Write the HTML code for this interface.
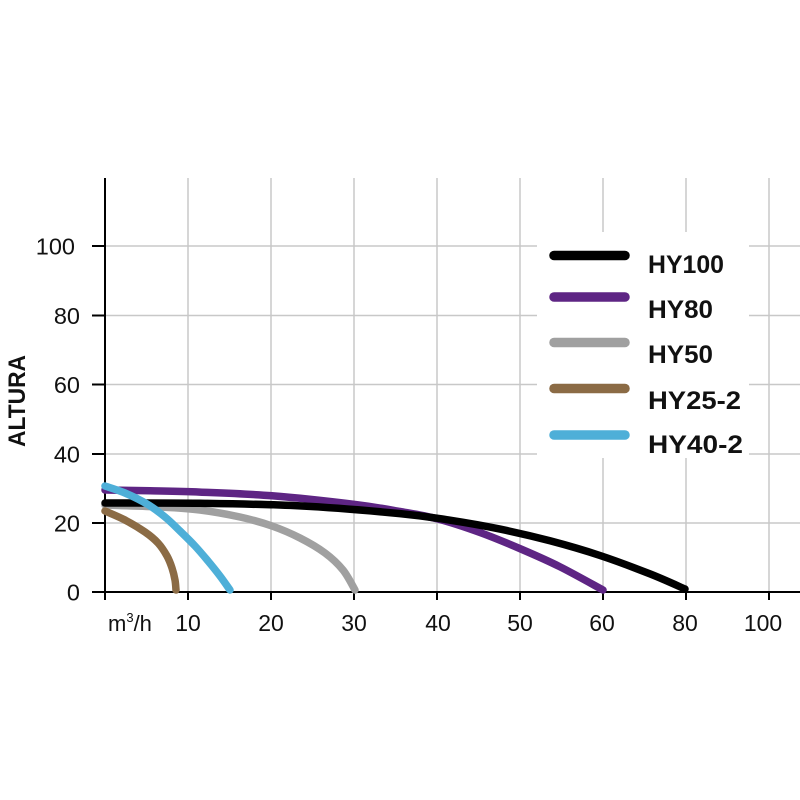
<!DOCTYPE html>
<html><head><meta charset="utf-8"><style>
html,body{margin:0;padding:0;background:#fff;}
svg{display:block;}
text{font-family:"Liberation Sans",sans-serif;fill:#111;}
</style></head><body>
<svg width="800" height="800" viewBox="0 0 800 800" xmlns="http://www.w3.org/2000/svg">
<rect width="800" height="800" fill="#fff"/>
<g stroke="#c8c8c8" stroke-width="1.5" fill="none">
<line x1="188" y1="178" x2="188" y2="592"/>
<line x1="271" y1="178" x2="271" y2="592"/>
<line x1="354" y1="178" x2="354" y2="592"/>
<line x1="437" y1="178" x2="437" y2="592"/>
<line x1="520" y1="178" x2="520" y2="592"/>
<line x1="603" y1="178" x2="603" y2="592"/>
<line x1="686" y1="178" x2="686" y2="592"/>
<line x1="769" y1="178" x2="769" y2="592"/>
<line x1="105" y1="246" x2="800" y2="246"/>
<line x1="105" y1="315.5" x2="800" y2="315.5"/>
<line x1="105" y1="384.5" x2="800" y2="384.5"/>
<line x1="105" y1="454" x2="800" y2="454"/>
<line x1="105" y1="523" x2="800" y2="523"/>
</g>
<rect x="537" y="232" width="212" height="226" fill="#fff"/>
<g stroke="#000" stroke-width="2" fill="none">
<line x1="105" y1="178" x2="105" y2="593"/>
<line x1="92" y1="592" x2="800" y2="592"/>
<line x1="92" y1="246" x2="105" y2="246"/>
<line x1="92" y1="315.5" x2="105" y2="315.5"/>
<line x1="92" y1="384.5" x2="105" y2="384.5"/>
<line x1="92" y1="454" x2="105" y2="454"/>
<line x1="92" y1="523" x2="105" y2="523"/>
<line x1="105" y1="592" x2="105" y2="600"/>
<line x1="188" y1="592" x2="188" y2="600"/>
<line x1="271" y1="592" x2="271" y2="600"/>
<line x1="354" y1="592" x2="354" y2="600"/>
<line x1="437" y1="592" x2="437" y2="600"/>
<line x1="520" y1="592" x2="520" y2="600"/>
<line x1="603" y1="592" x2="603" y2="600"/>
<line x1="686" y1="592" x2="686" y2="600"/>
<line x1="769" y1="592" x2="769" y2="600"/>
</g>
<g font-size="23.5" text-anchor="end">
<text x="75" y="254.5">100</text>
<text x="80" y="324">80</text>
<text x="80" y="393">60</text>
<text x="80" y="462.5">40</text>
<text x="80" y="531.5">20</text>
<text x="80" y="600.5">0</text>
</g>
<g font-size="23" text-anchor="middle">
<text x="188" y="631">10</text>
<text x="271" y="631">20</text>
<text x="354" y="631">30</text>
<text x="438" y="631">40</text>
<text x="520" y="631">50</text>
<text x="602" y="631">60</text>
<text x="685" y="631">80</text>
<text x="763" y="631">100</text>
</g>
<text x="108" y="631" font-size="22">m<tspan font-size="13" dy="-9">3</tspan><tspan dy="9">/h</tspan></text>
<text transform="translate(25,401) rotate(-90)" font-size="24" font-weight="bold" text-anchor="middle" textLength="92" lengthAdjust="spacingAndGlyphs">ALTURA</text>
<g fill="none" stroke-linecap="round" stroke-linejoin="round" stroke-width="7.5">
<polyline class="sm" stroke="#a0a0a0" points="105,505 160,507 200,510 240,517 272,526 300,538 325,553 343,570 355,590"/>
<polyline class="sm" stroke="#5e2584" points="105,490 150,490.8 200,492.1 272,495.8 355,504.5 400,511.5 438,519 480,532.5 522,549.5 560,566.8 603,590"/>
<polyline class="sm" stroke="#000" points="105,503 200,503.3 300,505.9 400,513.6 450,520.2 500,529.1 550,540.8 600,555.5 650,573.9 685,589"/>
<polyline class="sm" stroke="#8b6b45" points="105,511 125,520 145,532 158,543 167,556 172,568 175,580 176,590"/>
<polyline class="sm" stroke="#4eafd8" points="105,486 125,493 147,504 165,517 180,531 195,546 208,561 220,576 230,590"/>
</g>
<g stroke-linecap="round" stroke-width="9.5" fill="none">
<line x1="554" y1="255.5" x2="625" y2="255.5" stroke="#000"/>
<line x1="554" y1="297" x2="625" y2="297" stroke="#5e2584"/>
<line x1="554" y1="342.5" x2="625" y2="342.5" stroke="#a0a0a0"/>
<line x1="554" y1="388.5" x2="625" y2="388.5" stroke="#8b6b45"/>
<line x1="554" y1="435" x2="625" y2="435" stroke="#4eafd8"/>
</g>
<g font-size="25" font-weight="bold">
<text x="648" y="273" textLength="76" lengthAdjust="spacingAndGlyphs">HY100</text>
<text x="648" y="318" textLength="65" lengthAdjust="spacingAndGlyphs">HY80</text>
<text x="648" y="363" textLength="65" lengthAdjust="spacingAndGlyphs">HY50</text>
<text x="648" y="409" textLength="93" lengthAdjust="spacingAndGlyphs">HY25-2</text>
<text x="648" y="453" textLength="95" lengthAdjust="spacingAndGlyphs">HY40-2</text>
</g>
</svg>
<script>
(function(){
  var NS="http://www.w3.org/2000/svg";
  var pls=document.querySelectorAll("polyline.sm");
  for(var k=0;k<pls.length;k++){
    var pl=pls[k];
    var pts=pl.getAttribute("points").trim().split(/\s+/).map(function(s){var a=s.split(",");return [parseFloat(a[0]),parseFloat(a[1])];});
    var n=pts.length, d="M"+pts[0][0]+","+pts[0][1];
    for(var i=0;i<n-1;i++){
      var p0=pts[i>0?i-1:i],p1=pts[i],p2=pts[i+1],p3=pts[i+2<n?i+2:i+1];
      var c1x=p1[0]+(p2[0]-p0[0])/6,c1y=p1[1]+(p2[1]-p0[1])/6;
      var c2x=p2[0]-(p3[0]-p1[0])/6,c2y=p2[1]-(p3[1]-p1[1])/6;
      d+=" C"+c1x.toFixed(2)+","+c1y.toFixed(2)+" "+c2x.toFixed(2)+","+c2y.toFixed(2)+" "+p2[0]+","+p2[1];
    }
    var path=document.createElementNS(NS,"path");
    path.setAttribute("d",d);
    path.setAttribute("stroke",pl.getAttribute("stroke"));
    pl.parentNode.replaceChild(path,pl);
  }
})();
</script>
</body></html>
